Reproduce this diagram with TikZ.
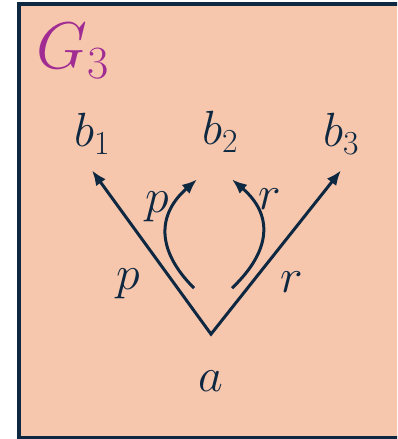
\RequirePackage{fix-cm}
\documentclass[tikz,border=0pt]{standalone}
\usetikzlibrary{arrows.meta}
\definecolor{NavyText}{RGB}{14,40,65}
\definecolor{PeachFill}{RGB}{246,198,173}
\definecolor{GraphMagenta}{RGB}{160,43,147}
\tikzset{
  vertex/.style={inner xsep=0pt,inner ysep=16pt,text=NavyText,
    font=\fontsize{48}{54}\selectfont},
  edgelabel/.style={inner sep=0pt,text=NavyText,
    font=\fontsize{48}{54}\selectfont},
  graphname/.style={inner sep=0pt,text=GraphMagenta,
    font=\fontsize{66}{74}\selectfont},
  panel/.style={draw=NavyText,fill=PeachFill,line width=4pt},
  arrow/.style={-{Latex[length=15pt,width=12pt]},line width=3pt,NavyText},
  vpair/.style={{Latex[length=15pt,width=12pt]}-{Latex[length=15pt,width=12pt]},
    line width=3pt,NavyText}
}

\begin{document}
\begin{tikzpicture}[x=1pt,y=1pt]
  \useasboundingbox (0,0) rectangle (397,439);
  \clip (0,0) rectangle (397,439);
  \draw[panel] (19,0.5) rectangle (410,435);
  \node[graphname,anchor=base west] (g3) at (36,370) {$G_3$};
  \node[vertex,anchor=base] (b1) at (92,292) {$b_1$};
  \node[vertex,anchor=base] (b2) at (220,294) {$b_2$};
  \node[vertex,anchor=base] (b3) at (341,292) {$b_3$};
  \node[vertex,anchor=base] (a) at (211,47) {$a$};
  \coordinate (apex) at ([yshift=21pt]a.north);
  \coordinate (pstart) at ([shift={(-17,46)}]apex);
  \coordinate (rstart) at ([shift={(21,46)}]apex);
  \draw[vpair] (b1.south) -- (apex) -- (b3.south);
  \draw[arrow] (pstart) .. controls +(-38,38) and +(-40,-35) .. ([shift={(-23,-11)}]b2.south);
  \draw[arrow] (rstart) .. controls +(40,38) and +(41,-35) .. ([shift={(12,-11)}]b2.south);
  \node[edgelabel,anchor=base] (p1) at (128,149) {$p$};
  \node[edgelabel,anchor=base] (p2) at (157,226) {$p$};
  \node[edgelabel,anchor=base] (r2) at (270,229) {$r$};
  \node[edgelabel,anchor=base] (r1) at (292,146) {$r$};
\end{tikzpicture}
\end{document}
